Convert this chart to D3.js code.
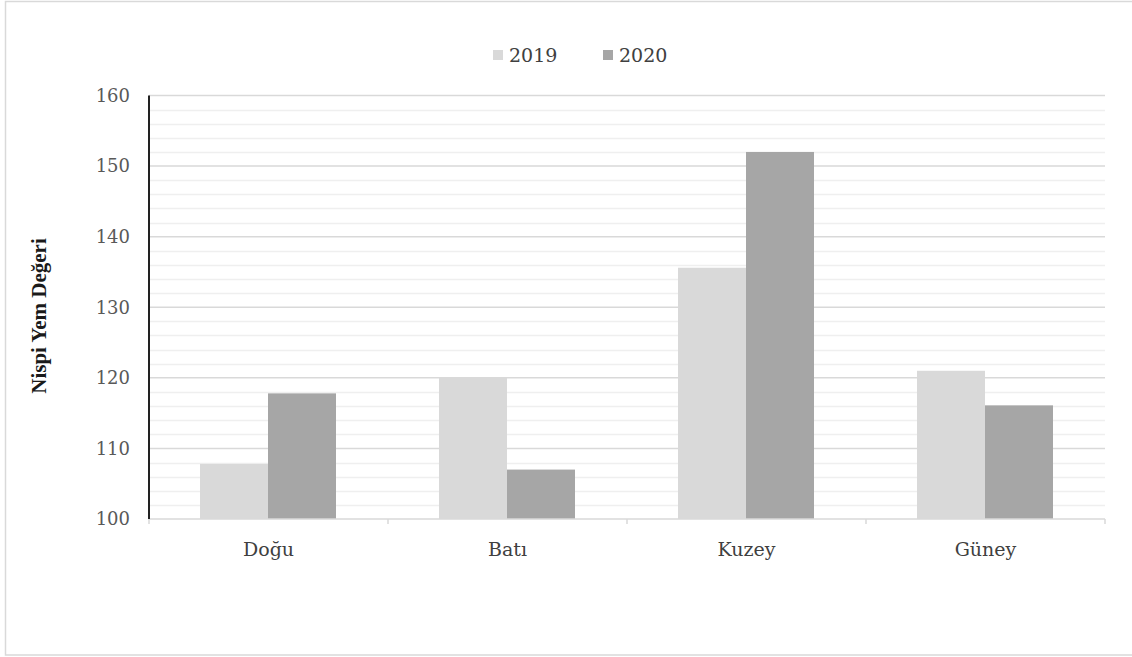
<!DOCTYPE html>
<html><head><meta charset="utf-8">
<script src="https://cdn.jsdelivr.net/npm/d3@7"></script>
<style>body{margin:0;background:#fff}svg{display:block}</style>
</head><body>
<svg id="c" width="1132" height="657"></svg>
<script>
const categories = ["Doğu", "Batı", "Kuzey", "Güney"];
const seriesNames = ["2019", "2020"];
const values2019 = [107.8, 120, 135.6, 121];
const values2020 = [117.8, 107, 152, 116.1];
const yTicks = [100, 110, 120, 130, 140, 150, 160];
const colors = ["#d9d9d9", "#a6a6a6"];

const svg = d3.select("#c");
const font = "'DejaVu Serif', serif";
const M = {left: 149, right: 1105, top: 95.5, bottom: 519};

svg.append("rect").attr("x", 5.5).attr("y", 1.5).attr("width", 1140).attr("height", 653.5)
  .attr("fill", "#fff").attr("stroke", "#d9d9d9").attr("stroke-width", 1.5);

const x0 = d3.scaleBand().domain(categories).range([M.left, M.right]).paddingInner(0).paddingOuter(0);
const x1 = d3.scaleBand().domain(seriesNames).range([51, 51 + 136]);
const y = d3.scaleLinear().domain([100, 160]).range([M.bottom, M.top]);

// minor gridlines
const minor = d3.range(102, 160, 2).filter(v => v % 10 !== 0);
svg.append("g").selectAll("line").data(minor).join("line")
  .attr("x1", M.left).attr("x2", M.right)
  .attr("y1", d => Math.round(y(d)) + 0.5).attr("y2", d => Math.round(y(d)) + 0.5)
  .attr("stroke", "#efefef").attr("stroke-width", 1.5);
// major gridlines
svg.append("g").selectAll("line").data(yTicks.slice(1)).join("line")
  .attr("x1", M.left).attr("x2", M.right)
  .attr("y1", d => y(d)).attr("y2", d => y(d))
  .attr("stroke", "#d9d9d9").attr("stroke-width", 1.5);

// bars
const data = categories.map((c, i) => ({c, vals: [values2019[i], values2020[i]]}));
const g = svg.append("g").selectAll("g").data(data).join("g")
  .attr("transform", d => `translate(${x0(d.c)},0)`);
g.selectAll("rect").data(d => d.vals.map((v, j) => ({v, s: seriesNames[j], j}))).join("rect")
  .attr("x", d => x1(d.s)).attr("width", x1.bandwidth())
  .attr("y", d => y(d.v)).attr("height", d => y(100) - y(d.v))
  .attr("fill", d => colors[d.j]);

// x axis
const xa = svg.append("g").attr("transform", `translate(0,${M.bottom})`);
xa.append("line").attr("x1", M.left).attr("x2", M.right).attr("stroke", "#d9d9d9").attr("stroke-width", 1.5);
const bounds = categories.map(c => x0(c)).concat([M.right]);
xa.selectAll(".tk").data(bounds).join("line").attr("class", "tk")
  .attr("x1", d => d).attr("x2", d => d).attr("y1", 0).attr("y2", 5)
  .attr("stroke", "#d9d9d9").attr("stroke-width", 1.5);
xa.selectAll("text").data(categories).join("text")
  .attr("x", d => x0(d) + x0.bandwidth() / 2).attr("y", 37)
  .attr("text-anchor", "middle").attr("font-family", font).attr("font-size", 19)
  .attr("fill", "#404040").text(d => d);

// y axis
svg.append("line").attr("x1", M.left).attr("x2", M.left).attr("y1", M.top).attr("y2", M.bottom)
  .attr("stroke", "#222").attr("stroke-width", 2);
svg.append("g").selectAll("text").data(yTicks).join("text")
  .attr("x", 130).attr("y", d => y(d)).attr("dy", "0.35em")
  .attr("text-anchor", "end").attr("font-family", font).attr("font-size", 18)
  .attr("fill", "#595959").text(d => d);

// y title
svg.append("text").attr("transform", "translate(46,316) rotate(-90)")
  .attr("text-anchor", "middle").attr("font-family", "'Liberation Serif', serif")
  .attr("font-weight", "bold").attr("font-size", 21).attr("fill", "#1a1a1a")
  .text("Nispi Yem Değeri");

// legend
const leg = svg.append("g");
const legX = [493, 603];
seriesNames.forEach((s, i) => {
  leg.append("rect").attr("x", legX[i]).attr("y", 50).attr("width", 10).attr("height", 10).attr("fill", colors[i]);
  leg.append("text").attr("x", legX[i] + 16).attr("y", 55).attr("dy", "0.35em")
    .attr("font-family", font).attr("font-size", 19).attr("fill", "#404040").text(s);
});
</script>
</body></html>
